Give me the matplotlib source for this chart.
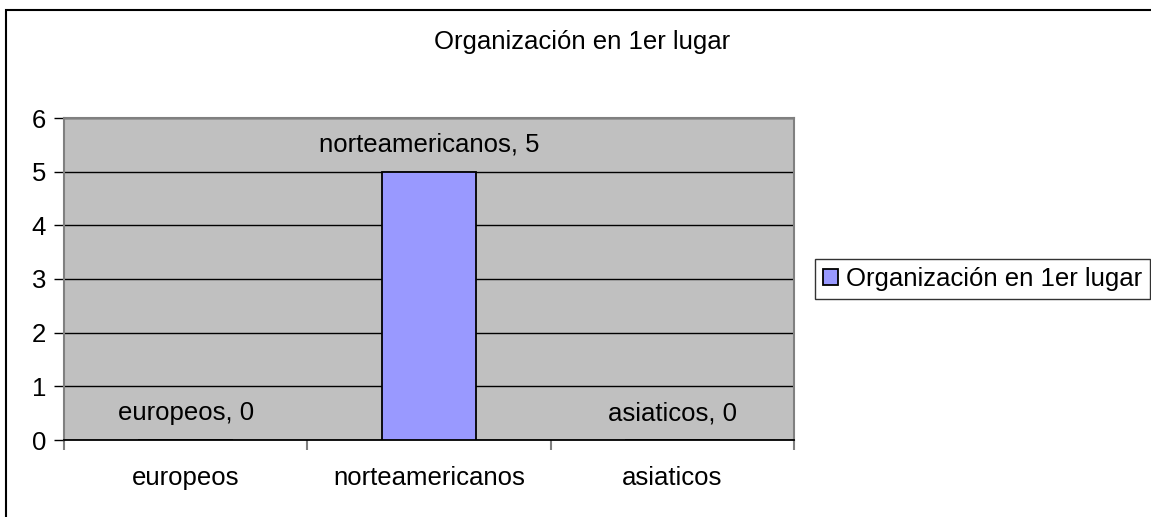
import matplotlib.pyplot as plt
from matplotlib.patches import Rectangle
from matplotlib.ticker import FixedLocator

plt.rcParams['font.family'] = ['Liberation Sans', 'DejaVu Sans']

categories = ["europeos", "norteamericanos", "asiaticos"]
values = [0, 5, 0]
series_name = "Organización en 1er lugar"
title = "Organización en 1er lugar"

FS = 18.5

fig = plt.figure(figsize=(11.51, 5.17), dpi=100)
ax = fig.add_axes([64 / 1151, 1 - 440 / 517, 730 / 1151, 322 / 517])

# outer chart frame (only top/left visible in the source)
fig.patches.append(Rectangle((5.5 / 1151, -0.1), 1.2, 1 - 10 / 517 + 0.1,
                             transform=fig.transFigure, fill=False,
                             edgecolor='black', linewidth=1.5))

ax.set_facecolor('#C0C0C0')
x = range(len(categories))
bars = ax.bar(x, values, width=0.39, color='#9999FF', edgecolor='black',
              linewidth=1.3, label=series_name, zorder=3)

for xi, cat, v in zip(x, categories, values):
    ax.text(xi, v + 0.5, f"{cat}, {v}", ha='center', va='center',
            fontsize=FS, zorder=4)

ax.set_xlim(-0.5, len(categories) - 0.5)
ax.set_ylim(0, 6)
ax.set_yticks(range(0, 7))
ax.yaxis.grid(True, color='black', linewidth=1)
ax.set_axisbelow(True)

ax.set_xticks(list(x))
ax.set_xticklabels(categories)
ax.xaxis.set_minor_locator(FixedLocator([-0.5, 0.5, 1.5, 2.5]))
ax.tick_params(axis='x', which='major', length=0, pad=19, labelsize=FS)
ax.tick_params(axis='x', which='minor', length=7, color='#808080', width=1.5)
ax.tick_params(axis='y', length=7, width=1, labelsize=FS, pad=6)

for side in ['left', 'top', 'right']:
    ax.spines[side].set_color('#808080')
    ax.spines[side].set_linewidth(1.5)
ax.spines['bottom'].set_color('black')
ax.spines['bottom'].set_linewidth(1.3)

fig.text(582 / 1151, 1 - 42 / 517, title, ha='center', va='center', fontsize=FS)

leg = ax.legend(loc='center left', bbox_to_anchor=(815 / 1151, 1 - 279 / 517),
                bbox_transform=fig.transFigure, fontsize=FS, frameon=True,
                fancybox=False, edgecolor='black', handlelength=0.6,
                handleheight=0.6, handletextpad=0.3, borderpad=0.3,
                borderaxespad=0)
leg.get_frame().set_linewidth(1)

fig.savefig('out.png', dpi=100)
